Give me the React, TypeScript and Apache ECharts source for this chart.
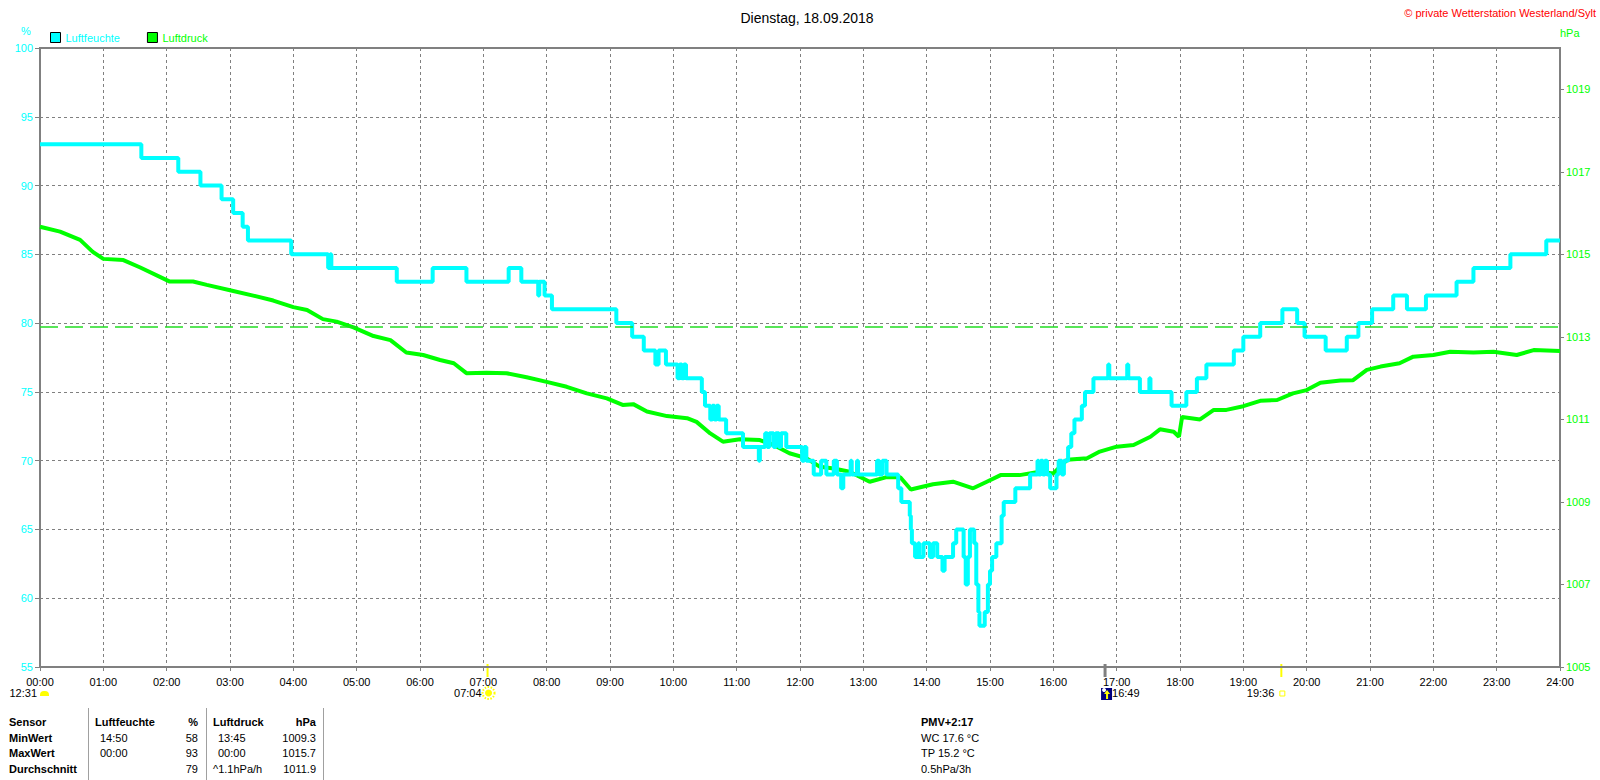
import React, { useEffect, useRef } from "react";
import * as echarts from "echarts";

const FONT = "'Liberation Sans', Arial, sans-serif";
const CYAN = "#00FFFF";
const GREEN = "#00FF00";
const GRAY = "#808080";

const title = "Dienstag, 18.09.2018";
const copyright = "© private Wetterstation Westerland/Sylt";
const seriesNames = ["Luftfeuchte", "Luftdruck"];
const standardPressure = 1013.25;

// Luftfeuchte (%) — value valid from the given time on
const humidity: [string, number][] = [
  ["00:00", 93], ["01:36", 92], ["02:11", 91], ["02:32", 90], ["02:52", 89], ["03:03", 88],
  ["03:12", 87], ["03:17", 86], ["03:58", 85], ["04:33", 84], ["04:35", 85], ["04:36", 84],
  ["05:38", 83], ["06:12", 84], ["06:44", 83], ["07:24", 84], ["07:36", 83], ["07:52", 82],
  ["07:53", 83], ["07:58", 82], ["08:05", 81], ["09:06", 80], ["09:21", 79], ["09:32", 78],
  ["09:43", 77], ["09:46", 78], ["09:53", 77], ["10:04", 76], ["10:06", 77], ["10:08", 76],
  ["10:10", 77], ["10:12", 76], ["10:27", 75], ["10:30", 74], ["10:35", 73], ["10:37", 74],
  ["10:39", 73], ["10:41", 74], ["10:43", 73], ["10:50", 72], ["11:06", 71], ["11:21", 70],
  ["11:22", 71], ["11:27", 72], ["11:29", 71], ["11:31", 72], ["11:35", 71], ["11:37", 72],
  ["11:40", 71], ["11:42", 72], ["11:47", 71], ["12:02", 70], ["12:04", 71], ["12:06", 70],
  ["12:13", 69], ["12:20", 70], ["12:25", 69], ["12:32", 70], ["12:35", 69], ["12:39", 68],
  ["12:41", 69], ["12:48", 70], ["12:49", 69], ["12:54", 70], ["12:55", 69], ["13:13", 70],
  ["13:15", 69], ["13:18", 70], ["13:22", 69], ["13:33", 68], ["13:36", 67], ["13:44", 66],
  ["13:45", 65], ["13:46", 64], ["13:49", 63], ["13:52", 64], ["13:53", 63], ["13:57", 64],
  ["14:03", 63], ["14:06", 64], ["14:10", 63], ["14:15", 62], ["14:17", 63], ["14:25", 64],
  ["14:28", 65], ["14:35", 63], ["14:37", 61], ["14:39", 63], ["14:41", 65], ["14:45", 64],
  ["14:47", 61], ["14:49", 59], ["14:50", 58], ["14:55", 59], ["14:58", 61], ["15:00", 62],
  ["15:02", 63], ["15:06", 64], ["15:11", 66], ["15:13", 67], ["15:24", 68], ["15:38", 69],
  ["15:45", 70], ["15:46", 69], ["15:48", 70], ["15:50", 69], ["15:52", 70], ["15:54", 69],
  ["15:57", 68], ["16:03", 69], ["16:05", 70], ["16:08", 69], ["16:10", 70], ["16:14", 71],
  ["16:17", 72], ["16:20", 73], ["16:27", 74], ["16:30", 75], ["16:38", 76], ["16:52", 77],
  ["16:53", 76], ["17:10", 77], ["17:11", 76], ["17:22", 75], ["17:31", 76], ["17:32", 75],
  ["17:52", 74], ["18:06", 75], ["18:16", 76], ["18:25", 77], ["18:51", 78], ["19:00", 79],
  ["19:16", 80], ["19:37", 81], ["19:51", 80], ["19:58", 79], ["20:18", 78], ["20:38", 79],
  ["20:49", 80], ["21:02", 81], ["21:22", 82], ["21:35", 81], ["21:53", 82], ["22:22", 83],
  ["22:38", 84], ["23:13", 85], ["23:47", 86], ["24:00", 86],
];

// Luftdruck (hPa)
const pressure: [string, number][] = [
  ["00:00", 1015.67], ["00:19", 1015.55], ["00:38", 1015.35], ["00:50", 1015.06], ["01:00", 1014.89],
  ["01:19", 1014.86], ["01:35", 1014.68], ["02:03", 1014.34], ["02:25", 1014.34], ["02:38", 1014.26],
  ["03:00", 1014.13], ["03:22", 1014.0], ["03:41", 1013.88], ["04:00", 1013.72], ["04:13", 1013.65],
  ["04:28", 1013.43], ["04:41", 1013.37], ["04:57", 1013.23], ["05:16", 1013.02], ["05:32", 1012.92],
  ["05:47", 1012.62], ["06:03", 1012.56], ["06:19", 1012.44], ["06:32", 1012.36], ["06:44", 1012.12],
  ["07:03", 1012.13], ["07:22", 1012.12], ["07:41", 1012.02], ["08:00", 1011.91], ["08:19", 1011.79],
  ["08:38", 1011.63], ["08:57", 1011.51], ["09:12", 1011.35], ["09:22", 1011.37], ["09:35", 1011.19],
  ["09:54", 1011.08], ["10:13", 1011.03], ["10:22", 1010.94], ["10:35", 1010.66], ["10:47", 1010.46],
  ["11:03", 1010.52], ["11:22", 1010.5], ["11:35", 1010.38], ["11:50", 1010.18], ["12:06", 1010.06],
  ["12:19", 1009.85], ["12:32", 1009.81], ["12:47", 1009.73], ["13:06", 1009.49], ["13:22", 1009.6],
  ["13:35", 1009.6], ["13:45", 1009.3], ["14:06", 1009.43], ["14:25", 1009.49], ["14:44", 1009.33],
  ["14:57", 1009.49], ["15:10", 1009.65], ["15:28", 1009.65], ["15:47", 1009.73], ["16:00", 1009.69],
  ["16:13", 1010.02], ["16:32", 1010.06], ["16:44", 1010.22], ["17:00", 1010.34], ["17:16", 1010.38],
  ["17:32", 1010.58], ["17:41", 1010.76], ["17:54", 1010.7], ["17:59", 1010.58], ["18:02", 1011.06],
  ["18:19", 1011.0], ["18:32", 1011.23], ["18:44", 1011.23], ["19:00", 1011.32], ["19:16", 1011.45],
  ["19:32", 1011.47], ["19:47", 1011.63], ["20:00", 1011.71], ["20:13", 1011.89], ["20:32", 1011.94],
  ["20:44", 1011.95], ["20:57", 1012.2], ["21:10", 1012.28], ["21:28", 1012.36], ["21:41", 1012.52],
  ["22:00", 1012.56], ["22:16", 1012.64], ["22:38", 1012.62], ["22:57", 1012.64], ["23:19", 1012.56],
  ["23:35", 1012.68], ["24:00", 1012.66],
];

// astronomical events below the time axis
const moonLeftTime = "12:31";
const sunriseTime = "07:04";
const moonriseTime = "16:49";
const sunsetTime = "19:36";

// statistics table
const tableHeader = ["Sensor", "Luftfeuchte", "%", "Luftdruck", "hPa"];
const tableRows: string[][] = [
  ["MinWert", "14:50", "58", "13:45", "1009.3"],
  ["MaxWert", "00:00", "93", "00:00", "1015.7"],
  ["Durchschnitt", "", "79", "^1.1hPa/h", "1011.9"],
];
const pmvLines = ["PMV+2:17", "WC 17.6 °C", "TP 15.2 °C", "0.5hPa/3h"];

const toMin = (s: string) => {
  const [h, m] = s.split(":").map(Number);
  return h * 60 + m;
};
const pad = (n: number) => String(n).padStart(2, "0");

function txt(x: number, y: number, text: string, opts: any = {}) {
  return {
    type: "text",
    x,
    y,
    silent: true,
    style: {
      text,
      font: opts.font || `11px ${FONT}`,
      fill: opts.fill || "#000",
      align: opts.align || "left",
      verticalAlign: "middle",
      textAlign: opts.align || "left",
      textVerticalAlign: "middle",
    },
  };
}

export default function App() {
  const ref = useRef<HTMLDivElement>(null);

  useEffect(() => {
    if (!ref.current) return;
    const chart = echarts.init(ref.current, null, { renderer: "svg" });
    const axisLine = { show: true, lineStyle: { color: GRAY, width: 2 } };
    const split = { show: true, lineStyle: { color: GRAY, width: 1, type: [3, 3] as any } };

    chart.setOption({
      animation: false,
      backgroundColor: "#fff",
      textStyle: { fontFamily: FONT },
      title: {
        text: title,
        left: 802,
        textAlign: "center",
        top: 6,
        textStyle: { fontSize: 14, fontWeight: "normal", color: "#000", fontFamily: FONT },
      },
      legend: {
        left: 50,
        top: 32,
        padding: 0,
        itemWidth: 10,
        itemHeight: 10,
        itemGap: 27,
        icon: "rect",
        textStyle: { fontSize: 11, fontFamily: FONT },
        data: [
          { name: seriesNames[0], textStyle: { color: CYAN }, itemStyle: { color: CYAN, borderColor: "#000", borderWidth: 1 } },
          { name: seriesNames[1], textStyle: { color: GREEN }, itemStyle: { color: GREEN, borderColor: "#000", borderWidth: 1 } },
        ],
      },
      grid: { left: 40, right: 40, top: 48, bottom: 113, show: true, borderColor: GRAY, borderWidth: 2, backgroundColor: "#fff" },
      xAxis: {
        type: "value",
        min: 0,
        max: 1440,
        interval: 60,
        axisLine,
        axisTick: { show: true, length: 4, lineStyle: { color: GRAY } },
        axisLabel: { color: "#000", fontSize: 11, margin: 9, fontFamily: FONT, formatter: (v: number) => `${pad(Math.round(v / 60))}:00` },
        splitLine: split,
      },
      yAxis: [
        {
          type: "value",
          position: "left",
          min: 55,
          max: 100,
          interval: 5,
          axisLine,
          axisTick: { show: true, length: 5, lineStyle: { color: GRAY } },
          axisLabel: { color: CYAN, fontSize: 11, margin: 7, fontFamily: FONT },
          splitLine: split,
        },
        {
          type: "value",
          position: "right",
          min: 1005,
          max: 1020,
          interval: 2,
          axisLine,
          axisTick: { show: true, length: 4, lineStyle: { color: GRAY } },
          axisLabel: { color: GREEN, fontSize: 11, margin: 6, fontFamily: FONT, showMaxLabel: false, formatter: (v: number) => String(v) },
          splitLine: { show: false },
        },
      ],
      series: [
        {
          name: seriesNames[1],
          type: "line",
          yAxisIndex: 1,
          symbol: "none",
          data: pressure.map(([t, v]) => [toMin(t), v]),
          lineStyle: { color: GREEN, width: 4 },
          itemStyle: { color: GREEN },
          markLine: {
            silent: true,
            symbol: "none",
            label: { show: false },
            lineStyle: { color: "#22DD22", width: 1.5, type: [18, 7] as any },
            data: [{ yAxis: standardPressure }],
          },
        },
        {
          name: seriesNames[0],
          type: "line",
          yAxisIndex: 0,
          symbol: "none",
          step: "end",
          data: humidity.map(([t, v]) => [toMin(t), v]),
          lineStyle: { color: CYAN, width: 4 },
          itemStyle: { color: CYAN },
        },
      ],
    });

    const px = (t: string) => chart.convertToPixel({ xAxisIndex: 0 }, toMin(t)) as number;
    const axisY = chart.convertToPixel({ yAxisIndex: 0 }, 55) as number;
    const rowY = axisY + 26;

    const g: any[] = [];
    // axis unit labels and copyright
    g.push(txt(26, 31, "%", { fill: CYAN, align: "center" }));
    g.push(txt(1560, 33, "hPa", { fill: GREEN }));
    g.push(txt(1596, 13, copyright, { fill: "#FF0000", align: "right" }));

    // left moon event
    g.push(txt(37, rowY, moonLeftTime, { align: "right" }));
    g.push({ type: "rect", silent: true, shape: { x: 40, y: rowY - 2, width: 9, height: 5, r: [4, 4, 0, 0] }, style: { fill: "#FFFF00" } });

    // sunrise
    const sr = px(sunriseTime);
    g.push({ type: "line", silent: true, shape: { x1: sr, y1: axisY - 3, x2: sr, y2: axisY + 10 }, style: { stroke: "#FFFF00", lineWidth: 2 } });
    g.push(txt(sr - 6, rowY, sunriseTime, { align: "right" }));
    g.push({ type: "circle", silent: true, shape: { cx: sr + 1, cy: rowY, r: 6 }, style: { fill: "none", stroke: "#FFFF00", lineWidth: 2, lineDash: [1.5, 1.5] } });
    g.push({ type: "circle", silent: true, shape: { cx: sr + 1, cy: rowY, r: 3.5 }, style: { fill: "#FFFF00" } });

    // moonrise
    const mr = px(moonriseTime);
    g.push({ type: "line", silent: true, shape: { x1: mr, y1: axisY - 3, x2: mr, y2: axisY + 10 }, style: { stroke: GRAY, lineWidth: 3 } });
    g.push({ type: "rect", silent: true, shape: { x: mr - 4, y: rowY - 5, width: 11, height: 12 }, style: { fill: "#000080" } });
    g.push({ type: "circle", silent: true, shape: { cx: mr - 1, cy: rowY - 3, r: 2 }, style: { fill: "#FFFFFF" } });
    g.push({ type: "polygon", silent: true, shape: { points: [[mr + 2, rowY - 3], [mr + 5, rowY + 1], [mr + 3, rowY + 1], [mr + 3, rowY + 6], [mr + 1, rowY + 6], [mr + 1, rowY + 1], [mr - 1, rowY + 1]] }, style: { fill: "#FFFF00" } });
    g.push(txt(mr + 7, rowY, moonriseTime));

    // sunset
    const ss = px(sunsetTime);
    g.push({ type: "line", silent: true, shape: { x1: ss, y1: axisY - 3, x2: ss, y2: axisY + 10 }, style: { stroke: "#FFFF00", lineWidth: 2 } });
    g.push(txt(ss - 7, rowY, sunsetTime, { align: "right" }));
    g.push({ type: "rect", silent: true, shape: { x: ss - 1.5, y: rowY - 2, width: 5, height: 5 }, style: { fill: "none", stroke: "#FFFF00", lineWidth: 1 } });

    // statistics table
    const tY = [722, 738, 753, 769];
    const bold = `bold 11px ${FONT}`;
    g.push(txt(9, tY[0], tableHeader[0], { font: bold }));
    g.push(txt(95, tY[0], tableHeader[1], { font: bold }));
    g.push(txt(198, tY[0], tableHeader[2], { font: bold, align: "right" }));
    g.push(txt(213, tY[0], tableHeader[3], { font: bold }));
    g.push(txt(316, tY[0], tableHeader[4], { font: bold, align: "right" }));
    tableRows.forEach((r, i) => {
      const y = tY[i + 1];
      g.push(txt(9, y, r[0], { font: bold }));
      if (r[1]) g.push(txt(100, y, r[1]));
      g.push(txt(198, y, r[2], { align: "right" }));
      g.push(txt(r[3].startsWith("^") ? 213 : 218, y, r[3]));
      g.push(txt(316, y, r[4], { align: "right" }));
    });
    [88, 206, 323].forEach((x) => {
      g.push({ type: "line", silent: true, shape: { x1: x + 0.5, y1: 708, x2: x + 0.5, y2: 780 }, style: { stroke: "#A0A0A0", lineWidth: 1 } });
    });
    pmvLines.forEach((l, i) => {
      g.push(txt(921, tY[i], l, i === 0 ? { font: bold } : {}));
    });

    chart.setOption({ graphic: g });
    return () => chart.dispose();
  }, []);

  return (
    <div
      ref={ref}
      style={{ position: "absolute", left: 0, top: 0, width: 1600, height: 780, background: "#fff" }}
    />
  );
}
